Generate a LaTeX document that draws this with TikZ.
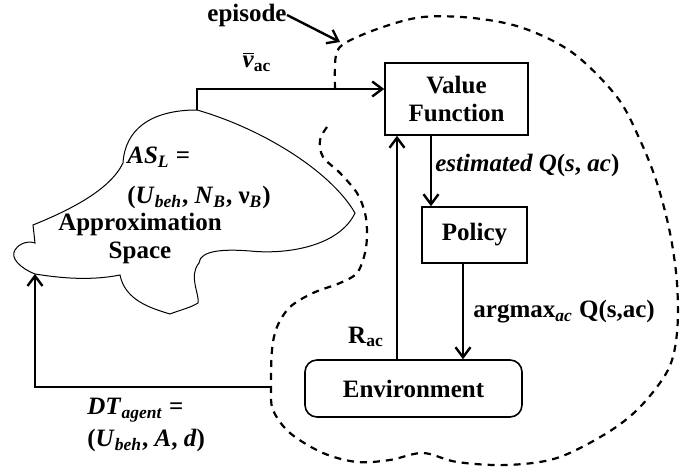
\documentclass[tikz,border=0pt]{standalone}
\usepackage{fontspec}
\setmainfont{Liberation Serif}
\usetikzlibrary{arrows.meta,calc}
\newcommand{\lowidx}[1]{\textsubscript{#1}}

\tikzset{
	block/.style={draw, line width=0.8pt, inner sep=2pt, align=center},
	flow/.style={line width=1.2pt, -{Straight Barb[length=5pt,width=7.5pt,line width=1.2pt]}},
	loop/.style={line width=1.1pt, dash pattern=on 3.5pt off 3pt},
	lbl/.style={inner sep=0pt}
}

\begin{document}
\begin{tikzpicture}[x=0.5pt, y=-0.5pt, every node/.style={font=\fontsize{12.5}{14}\selectfont\bfseries}]
	\useasboundingbox (0,0) rectangle (682,470);
	
	\node[block, minimum width=71.5pt, minimum height=36pt] (vf) at (456.5,99) {Value\\Function};
	\node[block, minimum width=52.5pt, minimum height=28pt] (pol) at (474.5,235) {Policy};
	\node[block, rounded corners=6pt, minimum width=108.5pt, minimum height=28.5pt] (env) at (413.5,388.5) {Environment};
	
	% approximation space cloud
	\draw[line width=0.5pt] (197,110) coordinate (cltop)
		.. controls (260,128) and (330,170) .. (355,213)
		.. controls (340,245) and (290,255) .. (250,251)
		.. controls (225,249) and (200,250) .. (199,263)
		.. controls (188,276) and (200,295) .. (198,303)
		.. controls (190,308) and (180,310) .. (170,314)
		.. controls (150,308) and (125,300) .. (120,275)
		.. controls (90,281) and (60,278) .. (35,274) coordinate (clin)
		.. controls (20,268) and (10,258) .. (15,250)
		.. controls (20,242) and (30,241) .. (35,243)
		-- (33,225)
		.. controls (70,210) and (110,190) .. (123,163)
		.. controls (125,130) and (150,110) .. (197,110);
	
	% episode region
	\draw[loop] plot[smooth, tension=0.55] coordinates {
		(327,127) (320,140) (323,157) (340,173) (357,193) (365,213) (367,233)
		(365,253) (357,273) (340,283) (313,293) (290,307) (277,327) (272,350)
		(271,387) (273,410) (290,433) (323,453) (357,462) (390,460) (423,453)
		(457,462) (507,465) (557,458) (607,433) (640,407) (668,370) (677,333)
		(677,283) (670,233) (657,183) (640,140) (617,97) (573,53) (523,28)
		(473,18) (423,17) (383,27) (347,42) (336,55) (335,89)};
	\coordinate (dtin) at (271,387);
	\coordinate (epitip) at (340,42);
	
	\node[lbl] (episode) at (247,15) {episode};
	\node[lbl] (vbar) at (257,62) {$\overline{\mbox{\textit{v}}}$\lowidx{ac}};
	\node[lbl, anchor=west] (estq) at (435,165) {\textit{estimated Q}(\textit{s}, \textit{ac})};
	\node[lbl, anchor=west] (argq) at (473,312) {argmax\lowidx{\textit{ac}} Q(s,ac)};
	\node[lbl] (rac) at (366,337) {R\lowidx{ac}};
	\node[lbl, anchor=west, align=left] (asl) at (127,178) {\textit{AS}\lowidx{\textit{L}} =\\[6pt](\textit{U}\lowidx{\textit{beh}}, \textit{N}\lowidx{\textit{B}}, ν\lowidx{\textit{B}})};
	\node[lbl, align=center] (aspace) at (140,238) {Approximation\\Space};
	\node[lbl, anchor=west, align=left] (dt) at (87,425) {\textit{DT}\lowidx{\textit{agent}} =\\[2pt](\textit{U}\lowidx{\textit{beh}}, \textit{A}, \textit{d})};
	
	\coordinate (q1) at ([xshift=-12.75pt]vf.south);
	\coordinate (q2) at ([xshift=-5.75pt]pol.south);
	\coordinate (q3) at ([xshift=-8.25pt]env.north);
	
	\draw[flow] (cltop) |- ([yshift=5pt]vf.west);
	\draw[flow] (q1) -- (q1 |- pol.north);
	\draw[flow] (q2) -- (q2 |- env.north);
	\draw[flow] (q3) -- (q3 |- vf.south);
	\draw[flow] (dtin) -| (clin);
	\draw[flow] (episode.east) -- (epitip);
\end{tikzpicture}
\end{document}
